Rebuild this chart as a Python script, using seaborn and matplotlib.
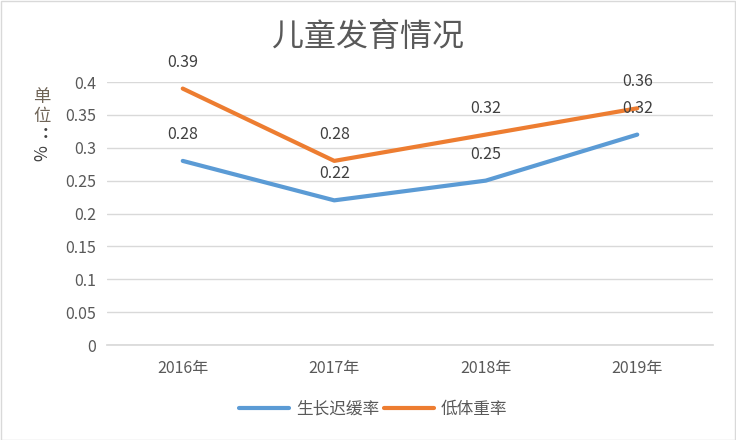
import matplotlib
matplotlib.use("Agg")
import matplotlib.pyplot as plt
import seaborn as sns
import pandas as pd
from matplotlib.patches import Rectangle
from matplotlib.lines import Line2D

years = ["2016年", "2017年", "2018年", "2019年"]
stunting = [0.28, 0.22, 0.25, 0.32]
underweight = [0.39, 0.28, 0.32, 0.36]
series_names = ["生长迟缓率", "低体重率"]
title = "儿童发育情况"

sns.set_theme(style="white")
plt.rcParams['font.family'] = ['Noto Sans CJK SC', 'DejaVu Sans']

df = pd.DataFrame({
    "year": years * 2,
    "value": stunting + underweight,
    "series": [series_names[0]] * 4 + [series_names[1]] * 4,
})
df["x"] = list(range(4)) * 2

fig = plt.figure(figsize=(7.36, 4.4), dpi=100)
ax = fig.add_axes([107 / 736, 1 - 345 / 440, (713 - 107) / 736, (345 - 82) / 440])

colors = ["#5B9BD5", "#ED7D31"]
sns.lineplot(data=df, x="x", y="value", hue="series", palette=colors,
             linewidth=3, ax=ax, legend=False, sort=False)

ax.set_xlim(-0.5, 3.5)
ax.set_ylim(0, 0.4)
ax.set_yticks([i * 0.05 for i in range(9)])
ax.set_yticklabels(["0", "0.05", "0.1", "0.15", "0.2", "0.25", "0.3", "0.35", "0.4"])
ax.set_xticks(range(4))
ax.set_xticklabels(years)
ax.tick_params(axis="y", colors="#595959", labelsize=11.5, length=0, pad=8)
ax.tick_params(axis="x", colors="#595959", labelsize=11.5, length=0, pad=11)
ax.grid(axis="y", color="#D9D9D9", linewidth=1)
for s in ["top", "right", "left"]:
    ax.spines[s].set_visible(False)
ax.spines["bottom"].set_color("#D9D9D9")
ax.set_xlabel("")
ax.set_ylabel("")

for vals in (stunting, underweight):
    for i, v in enumerate(vals):
        ax.annotate(f"{v:.2f}", (i, v), xytext=(0, 19), textcoords="offset points",
                    ha="center", va="center", fontsize=11.5, color="#404040")

fig.text(368 / 736, 1 - 37 / 440, title, ha="center", va="center",
         fontsize=23, color="#595959")

ylab_color = "#6F6457"
fig.text(42 / 736, 1 - 97 / 440, "单", ha="center", va="center",
         fontsize=12.5, color=ylab_color)
fig.text(42 / 736, 1 - 116 / 440, "位", ha="center", va="center",
         fontsize=12.5, color=ylab_color)
fig.text(46 / 736, 1 - 133 / 440, ":", ha="center", va="center",
         fontsize=12.5, color="#404040", fontweight="bold")
fig.text(42 / 736, 1 - 153 / 440, "%", ha="center", va="center",
         fontsize=12.5, color="#404040", rotation=90)

handles = [Line2D([0], [0], color=c, linewidth=3, solid_capstyle="round") for c in colors]
leg = fig.legend(handles, series_names, loc="center", bbox_to_anchor=(373 / 736, 1 - 409 / 440),
                 ncol=2, frameon=False, fontsize=12, handlelength=3.0,
                 columnspacing=0.3, handletextpad=0.4)
for t in leg.get_texts():
    t.set_color("#595959")

fig.patches.append(Rectangle((0.001, 0.001), 0.998, 0.997, transform=fig.transFigure,
                             fill=False, edgecolor="#D9D9D9", linewidth=1))

fig.savefig("out.png", dpi=100)
